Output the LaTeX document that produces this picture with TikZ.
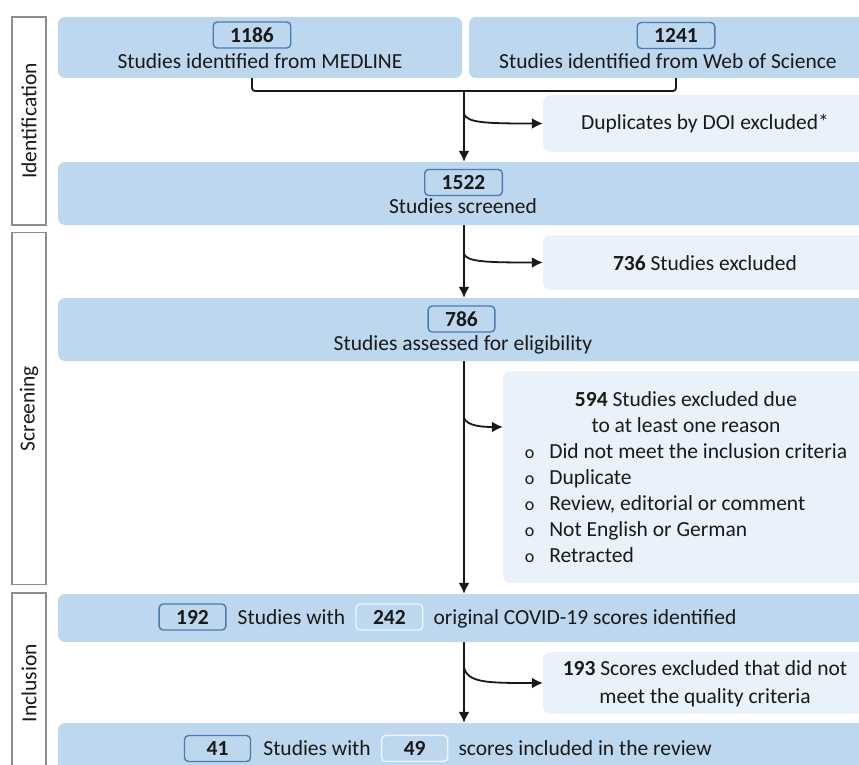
\documentclass[tikz,border=0pt]{standalone}
\usepackage{fontspec}
\setmainfont{Carlito}
\usepackage{tikz}
\usetikzlibrary{backgrounds,arrows.meta,positioning}
\definecolor{xblue}{RGB}{189,215,238}
\definecolor{xpale}{RGB}{233,241,250}
\definecolor{xedge}{RGB}{76,122,178}
\definecolor{xgrey}{RGB}{140,140,140}
\definecolor{xink}{RGB}{25,25,25}

\begin{document}
\begin{tikzpicture}[x=1pt, y=-1pt, font=\fontsize{21.5}{26}\selectfont, text=xink,
  every node/.style={inner sep=0},
  stage/.style={draw=xgrey, line width=1.6pt, fill=white, rotate=90, minimum height=34},
  band/.style={rectangle, rounded corners=7, fill=xblue},
  note/.style={rectangle, rounded corners=8, fill=xpale},
  num/.style={draw=xedge, line width=1.4pt, rounded corners=4, fill=xblue, minimum width=66, minimum height=26, inner xsep=17, font=\fontsize{21.5}{26}\selectfont\bfseries},
  numw/.style={num, draw=white!75!xblue},
  link/.style={line width=1.8pt, draw=xink, rounded corners=3},
  arr/.style={link, -{Latex[length=11pt, width=11pt]}}]
\def \ax {464}
\useasboundingbox (0,0) rectangle (859,765);
\clip (0,0) rectangle (859,765);
% stages
\node[stage, minimum width=208] at (29,121) (sid) {Identification};
\node[stage, minimum width=352] at (29,408.5) (sscr) {Screening};
\node[stage, minimum width=180] at (29,683) (sinc) {Inclusion};
% identification
\node[band, minimum width=404, minimum height=61] at (260,47.5) (med) {};
\node[num] at (252,35) (n1186) {1186};
\node[anchor=base] at (260,68.5) (tmed) {Studies identified from MEDLINE};
\node[band, minimum width=398, minimum height=61] at (668,47.5) (wos) {};
\node[num] at (676,35.5) (n1241) {1241};
\node[anchor=base] at (668,68.5) (twos) {Studies identified from Web of Science};
\node[note, minimum width=324, minimum height=57] at (705,123.5) (dup) {};
\node[anchor=base] at (705,130) (tdup) {Duplicates by DOI excluded*};
\node[band, minimum width=810, minimum height=63] at (463,193.5) (scr) {};
\node[num] at (463.5,182.5) (n1522) {1522};
\node[anchor=base] at (463,213) (tscr) {Studies screened};
\coordinate (j1) at (\ax,91);
\coordinate (b1) at (\ax,114);
\begin{scope}[on background layer]
\draw[link] (n1186 |- med.south) |- (n1241 |- j1) -- (n1241 |- wos.south);
\draw[arr] (j1) -- (scr.north -| j1);
\draw[arr, rounded corners=0] (b1) .. controls +(3,9) and +(-55,0) .. (dup.west);
\end{scope}
% screening
\node[note, minimum width=324, minimum height=55] at (705,262.5) (ex736) {};
\node[anchor=base] at (705,270) (t736) {\textbf{736} Studies excluded};
\node[band, minimum width=810, minimum height=63] at (463,329.5) (elig) {};
\node[num] at (461.5,319) (n786) {786};
\node[anchor=base] at (463,350) (telig) {Studies assessed for eligibility};
\node[note, minimum width=367, minimum height=212] at (686.5,477) (ex594) {};
\node at (686,479) (t594) {\begin{tabular}{@{}l@{\hspace{15pt}}l@{}}
\multicolumn{2}{@{}c@{}}{\textbf{594} Studies excluded due}\\
\multicolumn{2}{@{}c@{}}{to at least one reason}\\
{\fontsize{18}{26}\selectfont o} & Did not meet the inclusion criteria\\
{\fontsize{18}{26}\selectfont o} & Duplicate\\
{\fontsize{18}{26}\selectfont o} & Review, editorial or comment\\
{\fontsize{18}{26}\selectfont o} & Not English or German\\
{\fontsize{18}{26}\selectfont o} & Retracted
\end{tabular}};
\coordinate (b2) at (\ax,254);
\coordinate (b3) at (\ax,418);
% inclusion
\node[band, minimum width=810, minimum height=48] at (463,618) (inc1) {};
\node[num] at (192.5,617) (n192) {192};
\node[base right=11pt of n192] (w192) {Studies with};
\node[numw, base right=10pt of w192] (n242) {242};
\node[base right=10pt of n242] (o242) {original COVID-19 scores identified};
\node[note, minimum width=324, minimum height=62] at (705,683) (ex193) {};
\node[align=center, font=\fontsize{21.5}{28}\selectfont] at (705,684) (t193) {\textbf{193} Scores excluded that did not\\meet the quality criteria};
\node[band, minimum width=810, minimum height=48] at (463,747) (inc2) {};
\node[num] at (217.5,748.5) (n41) {41};
\node[base right=12pt of n41] (w41) {Studies with};
\node[numw, base right=10pt of w41] (n49) {49};
\node[base right=10pt of n49] (s49) {scores included in the review};
\coordinate (b4) at (\ax,667);
\begin{scope}[on background layer]
\draw[arr] (scr.south -| j1) -- (elig.north -| j1);
\draw[arr, rounded corners=0] (b2) .. controls +(3,8) and +(-55,0) .. (ex736.west);
\draw[arr] (elig.south -| j1) -- (inc1.north -| j1);
\draw[arr, rounded corners=0] (b3) .. controls +(3,8) and +(-20,0) .. ([yshift=50pt]ex594.west);
\draw[arr] (inc1.south -| j1) -- (inc2.north -| j1);
\draw[arr, rounded corners=0] (b4) .. controls +(3,16) and +(-55,0) .. (ex193.west);
\end{scope}
\end{tikzpicture}
\end{document}
